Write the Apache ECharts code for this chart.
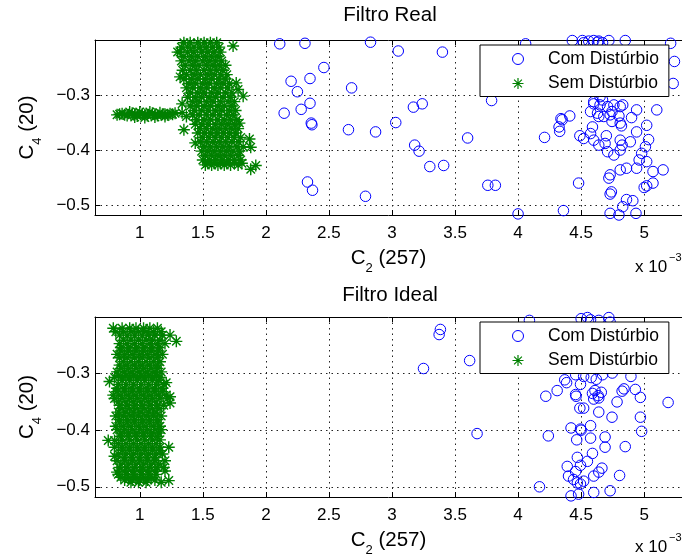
<!DOCTYPE html>
<html>
<head>
<meta charset="utf-8">
<script src="https://cdn.jsdelivr.net/npm/echarts@6/dist/echarts.min.js"></script>
<style>
html, body { margin: 0; padding: 0; background: #fff; }
#chart { width: 682px; height: 558px; }
</style>
</head>
<body>
<div id="chart"></div>
<script>
// C2(257) values are in units of 1e-3, C4(20) values are raw.
const titles = ['Filtro Real', 'Filtro Ideal'];
const seriesNames = ['Com Distúrbio', 'Sem Distúrbio'];
const xTicks = [1, 1.5, 2, 2.5, 3, 3.5, 4, 4.5, 5];
const yTicks = [-0.5, -0.4, -0.3];

// Filtro Real, with disturbance
const realCom = [
  [2.11,-0.207],[2.31,-0.206],[2.83,-0.204],[3.05,-0.22],[3.40,-0.222],[2.46,-0.25],
  [2.20,-0.275],[2.35,-0.27],[2.25,-0.294],[2.68,-0.287],[2.145,-0.333],[2.28,-0.326],
  [2.35,-0.315],[2.36,-0.351],[2.365,-0.354],[2.655,-0.363],[2.87,-0.367],[3.03,-0.35],
  [3.17,-0.322],[3.24,-0.316],[3.18,-0.391],[3.215,-0.402],[3.30,-0.43],[3.41,-0.428],
  [3.60,-0.378],[3.79,-0.31],[4.21,-0.377],[2.33,-0.458],[2.37,-0.473],[2.79,-0.484],
  [3.76,-0.464],[3.82,-0.464],[4.06,-0.207],[4.0,-0.516],[4.36,-0.51],
  [4.43,-0.201],[4.51,-0.201],[4.56,-0.202],[4.60,-0.201],[4.64,-0.202],[4.72,-0.201],
  [4.85,-0.201],[4.52,-0.205],[4.63,-0.204],[4.67,-0.205],[5.21,-0.206],[5.24,-0.239],[5.23,-0.279],
  [4.41,-0.338],[4.34,-0.343],[4.325,-0.358],[4.33,-0.366],[4.35,-0.345],
  [4.60,-0.312],[4.67,-0.309],[4.71,-0.321],[4.81,-0.321],[4.94,-0.327],[5.10,-0.327],
  [4.65,-0.303],[4.575,-0.33],[4.745,-0.33],[4.64,-0.339],
  [4.60,-0.316],[4.65,-0.318],[4.76,-0.318],[4.83,-0.318],
  [4.63,-0.333],[4.68,-0.339],[4.73,-0.336],[4.80,-0.338],[4.745,-0.348],[4.81,-0.351],
  [4.59,-0.358],[4.575,-0.37],[4.52,-0.379],[4.60,-0.382],[4.64,-0.391],[4.69,-0.388],
  [4.71,-0.403],[4.76,-0.409],[4.81,-0.382],[4.825,-0.391],[4.81,-0.4],[4.89,-0.385],
  [4.94,-0.367],[5.02,-0.355],[5.035,-0.381],[5.01,-0.394],[4.98,-0.406],[4.96,-0.418],
  [5.02,-0.421],[4.49,-0.374],[4.48,-0.46],[4.73,-0.445],[4.72,-0.451],[4.74,-0.476],
  [4.73,-0.48],[4.81,-0.436],[4.86,-0.433],[4.94,-0.433],[5.07,-0.439],[5.15,-0.436],
  [5.00,-0.468],[5.02,-0.465],[5.07,-0.46],[4.86,-0.49],[4.91,-0.492],[4.83,-0.503],
  [4.80,-0.518],[4.73,-0.515],[4.935,-0.515],[4.90,-0.341],[4.82,-0.356],[4.70,-0.374]
];

// Filtro Real, without disturbance
const realSem = [
  // narrow horizontal band near C4 = -0.335
  [0.82,-0.336],[0.86,-0.334],[0.90,-0.337],[0.94,-0.333],[0.98,-0.338],[1.02,-0.334],
  [1.06,-0.337],[1.10,-0.333],[1.14,-0.337],[1.18,-0.335],[1.22,-0.336],[1.26,-0.335],
  [0.92,-0.331],[1.00,-0.331],[1.08,-0.331],[1.16,-0.332],[0.96,-0.340],[1.04,-0.341],
  [1.12,-0.340],[1.20,-0.339],[0.84,-0.335],[0.88,-0.336],[0.96,-0.335],[1.04,-0.336],
  [1.12,-0.335],[1.20,-0.335],[1.24,-0.334],[1.28,-0.333],
  // main tilted cluster
  [1.35,-0.205],[1.40,-0.205],[1.46,-0.205],[1.51,-0.205],[1.56,-0.205],[1.61,-0.205],
  [1.33,-0.213],[1.38,-0.213],[1.43,-0.213],[1.48,-0.213],[1.53,-0.213],[1.58,-0.213],[1.63,-0.213],
  [1.32,-0.222],[1.38,-0.222],[1.43,-0.222],[1.49,-0.222],[1.54,-0.222],[1.59,-0.222],[1.64,-0.222],
  [1.35,-0.230],[1.41,-0.230],[1.46,-0.230],[1.52,-0.230],[1.57,-0.230],[1.62,-0.230],
  [1.33,-0.238],[1.39,-0.238],[1.44,-0.238],[1.50,-0.238],[1.55,-0.238],[1.60,-0.238],[1.65,-0.238],
  [1.36,-0.246],[1.42,-0.246],[1.47,-0.246],[1.53,-0.246],[1.58,-0.246],[1.63,-0.246],[1.68,-0.246],
  [1.34,-0.255],[1.40,-0.255],[1.45,-0.255],[1.51,-0.255],[1.56,-0.255],[1.61,-0.255],[1.66,-0.255],
  [1.37,-0.263],[1.43,-0.263],[1.48,-0.263],[1.54,-0.263],[1.59,-0.263],[1.64,-0.263],[1.69,-0.263],
  [1.35,-0.271],[1.41,-0.271],[1.46,-0.271],[1.52,-0.271],[1.57,-0.271],[1.63,-0.271],[1.68,-0.271],
  [1.39,-0.279],[1.44,-0.279],[1.50,-0.279],[1.55,-0.279],[1.61,-0.279],[1.66,-0.279],[1.71,-0.279],
  [1.37,-0.287],[1.42,-0.287],[1.48,-0.287],[1.53,-0.287],[1.59,-0.287],[1.64,-0.287],[1.70,-0.287],
  [1.40,-0.296],[1.46,-0.296],[1.51,-0.296],[1.57,-0.296],[1.62,-0.296],[1.68,-0.296],[1.73,-0.296],
  [1.38,-0.304],[1.44,-0.304],[1.49,-0.304],[1.55,-0.304],[1.60,-0.304],[1.66,-0.304],[1.72,-0.304],
  [1.42,-0.312],[1.47,-0.312],[1.53,-0.312],[1.58,-0.312],[1.64,-0.312],[1.70,-0.312],[1.75,-0.312],
  [1.40,-0.320],[1.45,-0.320],[1.51,-0.320],[1.56,-0.320],[1.62,-0.320],[1.67,-0.320],[1.73,-0.320],
  [1.43,-0.328],[1.49,-0.328],[1.54,-0.328],[1.60,-0.328],[1.65,-0.328],[1.71,-0.328],[1.76,-0.328],
  [1.42,-0.336],[1.47,-0.336],[1.53,-0.336],[1.58,-0.336],[1.63,-0.336],[1.69,-0.336],[1.74,-0.336],
  [1.45,-0.345],[1.51,-0.345],[1.56,-0.345],[1.62,-0.345],[1.67,-0.345],[1.72,-0.345],[1.77,-0.345],
  [1.44,-0.353],[1.49,-0.353],[1.54,-0.353],[1.60,-0.353],[1.65,-0.353],[1.70,-0.353],[1.75,-0.353],
  [1.48,-0.361],[1.53,-0.361],[1.58,-0.361],[1.63,-0.361],[1.68,-0.361],[1.73,-0.361],[1.78,-0.361],
  [1.46,-0.369],[1.51,-0.369],[1.56,-0.369],[1.61,-0.369],[1.66,-0.369],[1.71,-0.369],[1.76,-0.369],
  [1.50,-0.377],[1.55,-0.377],[1.60,-0.377],[1.65,-0.377],[1.70,-0.377],[1.75,-0.377],[1.80,-0.377],
  [1.48,-0.385],[1.53,-0.385],[1.58,-0.385],[1.63,-0.385],[1.68,-0.385],[1.73,-0.385],[1.78,-0.385],
  [1.51,-0.394],[1.56,-0.394],[1.61,-0.394],[1.66,-0.394],[1.71,-0.394],[1.77,-0.394],[1.82,-0.394],
  [1.49,-0.402],[1.54,-0.402],[1.59,-0.402],[1.64,-0.402],[1.69,-0.402],[1.74,-0.402],[1.79,-0.402],
  [1.52,-0.410],[1.57,-0.410],[1.62,-0.410],[1.67,-0.410],[1.72,-0.410],[1.78,-0.410],
  [1.50,-0.418],[1.55,-0.418],[1.60,-0.418],[1.65,-0.418],[1.70,-0.418],[1.75,-0.418],[1.80,-0.418],
  [1.54,-0.423],[1.59,-0.423],[1.64,-0.423],[1.69,-0.423],[1.75,-0.423],
  [1.52,-0.427],[1.57,-0.427],[1.62,-0.427],[1.67,-0.427],[1.72,-0.427],[1.78,-0.427],
  // scattered stars around the cluster
  [1.74,-0.211],[1.32,-0.267],[1.765,-0.278],[1.78,-0.29],[1.82,-0.302],[1.336,-0.316],
  [1.336,-0.332],[1.37,-0.339],[1.79,-0.351],[1.35,-0.363],[1.44,-0.387],[1.87,-0.38],
  [1.88,-0.395],[1.81,-0.424],[1.92,-0.428],[1.88,-0.435],[1.30,-0.222]
];

// Filtro Ideal, with disturbance
const idealCom = [
  [3.384,-0.222],[3.374,-0.231],[3.25,-0.291],[3.616,-0.277],[3.675,-0.406],[4.09,-0.206],
  [4.22,-0.34],[4.31,-0.33],[4.24,-0.41],[4.17,-0.50],[4.385,-0.316],[4.456,-0.337],
  [4.46,-0.34],[4.495,-0.319],[4.50,-0.203],[4.575,-0.205],[4.64,-0.206],[4.72,-0.201],
  [4.73,-0.209],[4.55,-0.201],[4.37,-0.311],[4.457,-0.302],[4.52,-0.305],[4.58,-0.307],
  [4.62,-0.31],[4.67,-0.302],[4.747,-0.299],[4.895,-0.305],[4.59,-0.335],[4.61,-0.33],
  [4.635,-0.339],[4.66,-0.333],[4.60,-0.345],[4.64,-0.343],[4.49,-0.361],[4.52,-0.361],
  [4.64,-0.368],[4.785,-0.35],[4.825,-0.331],[4.84,-0.327],[4.93,-0.328],[4.97,-0.342],
  [5.19,-0.351],[4.745,-0.377],[4.97,-0.377],[4.98,-0.402],[4.42,-0.396],[4.495,-0.398],
  [4.50,-0.40],[4.575,-0.392],[4.465,-0.417],[4.575,-0.414],[4.69,-0.412],[4.69,-0.43],
  [4.85,-0.429],[4.59,-0.441],[4.47,-0.448],[4.55,-0.455],[4.39,-0.464],[4.495,-0.462],
  [4.456,-0.473],[4.665,-0.467],[4.64,-0.474],[4.60,-0.481],[4.40,-0.481],[4.44,-0.487],
  [4.47,-0.493],[4.495,-0.495],[4.52,-0.49],[4.805,-0.48],[4.60,-0.51],[4.73,-0.507],
  [4.42,-0.516],[4.48,-0.513]
];

// Filtro Ideal, without disturbance
const idealSem = [
  [0.79,-0.220],[0.86,-0.220],[0.92,-0.220],[0.97,-0.220],[1.03,-0.220],[1.08,-0.220],[1.14,-0.220],
  [0.81,-0.226],[0.87,-0.226],[0.93,-0.226],[0.99,-0.226],[1.05,-0.226],[1.11,-0.226],[1.17,-0.226],
  [0.84,-0.232],[0.90,-0.232],[0.96,-0.232],[1.02,-0.232],[1.07,-0.232],[1.12,-0.232],[1.18,-0.232],[1.24,-0.232],
  [0.87,-0.241],[0.93,-0.241],[0.99,-0.241],[1.05,-0.241],[1.10,-0.241],[1.16,-0.241],[1.29,-0.243],
  [0.84,-0.247],[0.90,-0.247],[0.96,-0.247],[1.02,-0.247],[1.08,-0.247],[1.14,-0.247],[1.20,-0.247],
  [0.85,-0.254],[0.91,-0.254],[0.97,-0.254],[1.03,-0.254],[1.09,-0.254],[1.15,-0.254],
  [0.85,-0.260],[0.91,-0.260],[0.97,-0.260],[1.03,-0.260],[1.09,-0.260],[1.15,-0.260],
  [0.82,-0.266],[0.88,-0.266],[0.94,-0.266],[1.00,-0.266],[1.06,-0.266],[1.12,-0.266],[1.18,-0.266],
  [0.84,-0.272],[0.90,-0.272],[0.96,-0.272],[1.02,-0.272],[1.08,-0.272],[1.14,-0.272],
  [0.87,-0.279],[0.93,-0.279],[0.99,-0.279],[1.05,-0.279],[1.11,-0.279],[1.16,-0.279],
  [0.84,-0.285],[0.90,-0.285],[0.96,-0.285],[1.02,-0.285],[1.08,-0.285],[1.14,-0.285],
  [0.85,-0.291],[0.91,-0.291],[0.97,-0.291],[1.03,-0.291],[1.09,-0.291],[1.14,-0.291],
  [0.82,-0.297],[0.88,-0.297],[0.94,-0.297],[1.00,-0.297],[1.06,-0.297],[1.12,-0.297],[1.17,-0.297],
  [0.83,-0.303],[0.89,-0.303],[0.95,-0.303],[1.01,-0.303],[1.07,-0.303],[1.13,-0.303],
  [0.80,-0.307],[0.86,-0.307],[0.92,-0.307],[0.98,-0.307],[1.04,-0.307],[1.10,-0.307],[1.16,-0.307],
  [0.76,-0.314],[0.86,-0.312],[0.92,-0.312],[0.98,-0.312],[1.04,-0.312],[1.10,-0.312],[1.15,-0.312],[1.21,-0.316],
  [0.83,-0.319],[0.89,-0.319],[0.95,-0.319],[1.01,-0.319],[1.07,-0.319],[1.13,-0.319],[1.19,-0.319],
  [0.82,-0.326],[0.88,-0.326],[0.94,-0.326],[1.00,-0.326],[1.06,-0.326],[1.12,-0.326],[1.18,-0.326],
  [0.82,-0.332],[0.88,-0.332],[0.94,-0.332],[1.00,-0.332],[1.06,-0.332],[1.12,-0.332],[1.18,-0.332],
  [0.79,-0.338],[0.85,-0.338],[0.91,-0.338],[0.97,-0.338],[1.03,-0.338],[1.09,-0.338],[1.15,-0.338],[1.21,-0.338],[1.24,-0.341],
  [0.80,-0.344],[0.86,-0.344],[0.92,-0.344],[0.98,-0.344],[1.04,-0.344],[1.10,-0.344],[1.16,-0.344],[1.22,-0.344],
  [0.83,-0.350],[0.89,-0.350],[0.95,-0.350],[1.01,-0.350],[1.07,-0.350],[1.13,-0.350],[1.24,-0.352],
  [0.84,-0.356],[0.90,-0.356],[0.96,-0.356],[1.02,-0.356],[1.08,-0.356],[1.14,-0.356],[1.19,-0.356],
  [0.86,-0.362],[0.92,-0.362],[0.98,-0.362],[1.04,-0.362],[1.10,-0.362],[1.16,-0.362],
  [0.83,-0.368],[0.89,-0.368],[0.95,-0.368],[1.01,-0.368],[1.07,-0.368],[1.13,-0.368],
  [0.81,-0.375],[0.87,-0.375],[0.93,-0.375],[0.99,-0.375],[1.05,-0.375],[1.11,-0.375],[1.17,-0.375],
  [0.84,-0.381],[0.90,-0.381],[0.96,-0.381],[1.02,-0.381],[1.08,-0.381],[1.14,-0.381],
  [0.84,-0.387],[0.90,-0.387],[0.96,-0.387],[1.02,-0.387],[1.08,-0.387],[1.14,-0.387],
  [0.81,-0.393],[0.87,-0.393],[0.93,-0.393],[0.99,-0.393],[1.05,-0.393],[1.11,-0.393],[1.16,-0.393],
  [0.82,-0.399],[0.88,-0.399],[0.94,-0.399],[1.00,-0.399],[1.06,-0.399],[1.12,-0.399],[1.17,-0.399],
  [0.85,-0.405],[0.91,-0.405],[0.97,-0.405],[1.03,-0.405],[1.09,-0.405],[1.15,-0.405],
  [0.85,-0.411],[0.91,-0.411],[0.97,-0.411],[1.03,-0.411],[1.09,-0.411],[1.14,-0.411],
  [0.86,-0.417],[0.92,-0.417],[0.98,-0.417],[1.04,-0.417],[1.10,-0.417],[1.16,-0.417],
  [0.75,-0.418],[0.80,-0.418],
  [0.83,-0.424],[0.89,-0.424],[0.95,-0.424],[1.01,-0.424],[1.07,-0.424],[1.13,-0.424],[1.23,-0.430],
  [0.80,-0.430],[0.86,-0.430],[0.92,-0.430],[0.98,-0.430],[1.04,-0.430],[1.10,-0.430],[1.16,-0.430],
  [0.86,-0.436],[0.92,-0.436],[0.98,-0.436],[1.04,-0.436],[1.10,-0.436],[1.16,-0.436],
  [0.83,-0.442],[0.89,-0.442],[0.95,-0.442],[1.01,-0.442],[1.07,-0.442],[1.13,-0.442],[1.18,-0.442],
  [0.80,-0.446],[0.88,-0.448],[0.94,-0.448],[1.00,-0.448],[1.06,-0.448],[1.12,-0.448],[1.20,-0.454],
  [0.82,-0.454],[0.88,-0.454],[0.94,-0.454],[1.00,-0.454],[1.06,-0.454],[1.12,-0.454],
  [0.85,-0.460],[0.91,-0.460],[0.97,-0.460],[1.03,-0.460],[1.09,-0.460],[1.15,-0.460],
  [0.84,-0.466],[0.90,-0.466],[0.96,-0.466],[1.02,-0.466],[1.08,-0.466],[1.14,-0.466],[1.19,-0.466],
  [0.82,-0.474],[0.88,-0.472],[0.94,-0.472],[1.00,-0.472],[1.06,-0.472],[1.12,-0.472],[1.20,-0.472],
  [0.83,-0.478],[0.89,-0.478],[0.95,-0.478],[1.01,-0.478],[1.07,-0.478],[1.13,-0.478],
  [0.85,-0.483],[0.91,-0.483],[0.97,-0.483],[1.03,-0.483],[1.09,-0.483],[1.17,-0.492],[1.23,-0.489],
  [0.88,-0.488],[0.94,-0.488],[1.00,-0.488],[1.06,-0.488],[1.12,-0.488],
  [0.93,-0.492],[0.99,-0.492],[1.05,-0.492]
];

const FONT = '"Liberation Sans", Arial, Helvetica, sans-serif';
const BLUE = '#0000ff';
const GREEN = '#008000';
const STAR = 'path://M0,-10L0,10M-10,0L10,0M-7.07,-7.07L7.07,7.07M-7.07,7.07L7.07,-7.07';

const X_MIN = 0.645, X_MAX = 5.3;
const Y_MIN = -0.518, Y_MAX = -0.2;

const grids = [
  { left: 95, top: 40, width: 590, height: 175 },
  { left: 95, top: 317, width: 590, height: 182 }
];

const nameRich = {
  m: { fontSize: 20.5, fontFamily: FONT, color: '#000', verticalAlign: 'top', lineHeight: 22 },
  s: { fontSize: 13, fontFamily: FONT, color: '#000', verticalAlign: 'top', lineHeight: 13, padding: [14, 0, 0, 0] }
};

function bottomAxis(g) {
  return {
    type: 'value', gridIndex: g, position: 'bottom', min: X_MIN, max: X_MAX,
    name: '{m|C}{s|2}{m| (257)}', nameLocation: 'middle', nameGap: 33,
    nameTextStyle: { rich: nameRich },
    axisLine: { show: true, onZero: false, lineStyle: { color: '#000', width: 1 } },
    axisTick: { show: true, inside: true, length: 5, customValues: xTicks, lineStyle: { color: '#000' } },
    axisLabel: { show: true, customValues: xTicks, margin: 10, color: '#000', fontSize: 17, fontFamily: FONT,
      formatter: v => String(v) },
    splitLine: { show: true, lineStyle: { color: '#222', width: 1, type: [1.5, 4] } }
  };
}
function topAxis(g) {
  return {
    type: 'value', gridIndex: g, position: 'top', min: X_MIN, max: X_MAX,
    axisLine: { show: true, onZero: false, lineStyle: { color: '#000', width: 1 } },
    axisTick: { show: true, inside: true, length: 5, customValues: xTicks, lineStyle: { color: '#000' } },
    axisLabel: { show: false },
    splitLine: { show: false }
  };
}
function leftAxis(g) {
  return {
    type: 'value', gridIndex: g, position: 'left', min: Y_MIN, max: Y_MAX,
    name: '{m|C}{s|4}{m| (20)}', nameLocation: 'middle', nameGap: 56, nameRotate: 90,
    nameTextStyle: { rich: nameRich },
    axisLine: { show: true, onZero: false, lineStyle: { color: '#000', width: 1 } },
    axisTick: { show: true, inside: true, length: 5, customValues: yTicks, lineStyle: { color: '#000' } },
    axisLabel: { show: true, customValues: yTicks, margin: 5, color: '#000', fontSize: 17, fontFamily: FONT,
      formatter: v => String(v).replace('-', '\u2212') },
    splitLine: { show: true, lineStyle: { color: '#222', width: 1, type: [1.5, 4] } }
  };
}

function comSeries(data, g) {
  return {
    name: seriesNames[0], type: 'scatter', xAxisIndex: g * 2, yAxisIndex: g, data: data,
    symbol: 'circle', symbolSize: 10.5, clip: false, z: 3,
    itemStyle: { color: 'none', borderColor: BLUE, borderWidth: 1, opacity: 1 },
    emphasis: { disabled: true }
  };
}
function semSeries(data, g) {
  return {
    name: seriesNames[1], type: 'scatter', xAxisIndex: g * 2, yAxisIndex: g, data: data,
    symbol: STAR, symbolSize: 12, clip: false, z: 3,
    itemStyle: { color: 'none', borderColor: GREEN, borderWidth: 1.4, opacity: 1 },
    emphasis: { disabled: true }
  };
}

function legendFor(top) {
  return {
    orient: 'vertical', left: 480, top: top, padding: [5, 10, 4, 30], itemGap: 6.5,
    itemWidth: 50, itemHeight: 11, selectedMode: false,
    backgroundColor: '#fff', borderColor: '#000', borderWidth: 1, borderRadius: 0,
    textStyle: { color: '#000', fontSize: 17.5, fontFamily: FONT },
    data: [
      { name: seriesNames[0], icon: 'circle', itemStyle: { color: 'none', borderColor: BLUE, borderWidth: 1 } },
      { name: seriesNames[1], icon: STAR, itemStyle: { color: 'none', borderColor: GREEN, borderWidth: 1.2 } }
    ]
  };
}

function multiplier(topY) {
  return [
    { type: 'text', left: 635, top: topY, z: 10,
      style: { text: 'x 10', fill: '#000', font: '17px ' + FONT } },
    { type: 'text', left: 669, top: topY - 7, z: 10,
      style: { text: '\u22123', fill: '#000', font: '11px ' + FONT } }
  ];
}

const chart = echarts.init(document.getElementById('chart'), null, { renderer: 'canvas' });
chart.setOption({
  animation: false,
  backgroundColor: '#fff',
  title: [
    { text: titles[0], left: 390, textAlign: 'center', top: 5, padding: 0,
      textStyle: { fontSize: 20.5, fontWeight: 'normal', color: '#000', fontFamily: FONT } },
    { text: titles[1], left: 390, textAlign: 'center', top: 285, padding: 0,
      textStyle: { fontSize: 20.5, fontWeight: 'normal', color: '#000', fontFamily: FONT } }
  ],
  grid: grids,
  xAxis: [bottomAxis(0), topAxis(0), bottomAxis(1), topAxis(1)],
  yAxis: [leftAxis(0), leftAxis(1)],
  legend: [legendFor(45), legendFor(322)],
  series: [
    comSeries(realCom, 0), semSeries(realSem, 0),
    comSeries(idealCom, 1), semSeries(idealSem, 1)
  ],
  graphic: multiplier(259).concat(multiplier(539))
});
</script>
</body>
</html>
